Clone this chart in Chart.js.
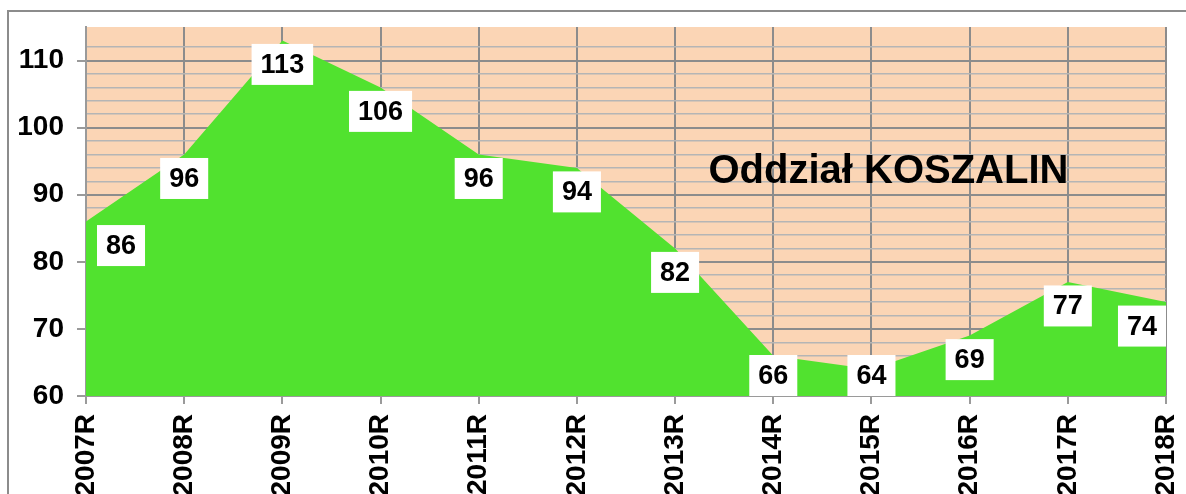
<!DOCTYPE html>
<html>
<head>
<meta charset="utf-8">
<script src="https://cdn.jsdelivr.net/npm/chart.js@4/dist/chart.umd.min.js"></script>
<style>
  html, body { margin:0; padding:0; background:#fff; }
  #wrap { width:1186px; height:494px; }
</style>
</head>
<body>
<div id="wrap"><canvas id="wykres" width="1186" height="494"></canvas></div>
<script>
const lata = ["2007R","2008R","2009R","2010R","2011R","2012R","2013R","2014R","2015R","2016R","2017R","2018R"];
const wartosci = [86,96,113,106,96,94,82,66,64,69,77,74];
const tytul = "Oddział KOSZALIN";
const yMin = 60, yMax = 115;

const FONT = "'Liberation Sans', Arial, sans-serif";

// tlo wykresu + ramka zewnetrzna
const tloPlugin = {
    id:'tlo',
    beforeDraw(chart){
        const {ctx, chartArea:a} = chart;
        ctx.save();
        ctx.fillStyle = '#fff';
        ctx.fillRect(0,0,chart.width,chart.height);
        ctx.fillStyle = '#FBD5B5';
        ctx.fillRect(a.left,a.top,a.right-a.left,a.bottom-a.top);
        ctx.strokeStyle = '#8c8c8c';
        ctx.lineWidth = 2;
        ctx.strokeRect(8,11,chart.width+20,chart.height+20);
        ctx.restore();
    }
};

// etykiety wartosci w bialych ramkach + napis
const etykietyPlugin = {
    id:'etykiety',
    afterDatasetsDraw(chart){
        const {ctx, chartArea:a} = chart;
        const meta = chart.getDatasetMeta(0);
        ctx.save();
        ctx.font = "bold 27px " + FONT;
        ctx.textAlign = 'center';
        ctx.textBaseline = 'middle';
        meta.data.forEach((p,i)=>{
            const txt = String(wartosci[i]);
            const w = ctx.measureText(txt).width + 18;
            const h = 41;
            let cx = p.x, cy = p.y + 24;
            if(cx - w/2 < a.left + 11) cx = a.left + 11 + w/2;
            if(cx + w/2 > a.right) cx = a.right - w/2;
            if(cy + h/2 > a.bottom) cy = a.bottom - h/2;
            ctx.fillStyle = '#fff';
            ctx.fillRect(cx - w/2, cy - h/2, w, h);
            ctx.fillStyle = '#000';
            ctx.fillText(txt, cx, cy + 1);
        });
        ctx.font = "bold 40px " + FONT;
        ctx.fillStyle = '#000';
        ctx.fillText(tytul, a.left + (a.right-a.left)*0.743, a.top + 145);
        ctx.restore();
    }
};

new Chart(document.getElementById("wykres").getContext("2d"),{
    type:'line',
    data:{
        labels: lata,
        datasets:[{
            data: wartosci,
            backgroundColor:'#51E22F',
            borderWidth:0,
            pointRadius:0,
            fill:'start',
            tension:0
        }]
    },
    options:{
        responsive:false,
        animation:false,
        layout:{padding:{top:27,right:20,left:12,bottom:0}},
        plugins:{legend:{display:false},title:{display:false},tooltip:{enabled:false}},
        scales:{
            x:{
                offset:false,
                grid:{color:'#8c8c8c',lineWidth:2,tickLength:8,tickColor:'#9a9a9a'},
                border:{color:'#9a9a9a',width:2},
                ticks:{
                    minRotation:90,maxRotation:90,autoSkip:false,padding:10,
                    color:'#000',font:{family:FONT,size:28,weight:'bold'}
                },
                afterFit(s){ s.height = 98; s.paddingLeft = 0; s.paddingRight = 0; }
            },
            y:{
                min:yMin,max:yMax,
                ticks:{
                    stepSize:2,autoSkip:false,padding:13,color:'#000',
                    font:{family:FONT,size:28,weight:'bold'},
                    callback:(v)=> v%10===0 ? v : ''
                },
                grid:{
                    color:(c)=>{
                        const v = c.tick ? c.tick.value : 0;
                        if(v>=yMax) return 'rgba(0,0,0,0)';
                        return v%10===0 ? '#8c8c8c' : '#b5b5b5';
                    },
                    lineWidth:(c)=> (c.tick && c.tick.value%10===0) ? 2 : 1.5,
                    tickLength:9,
                    tickColor:(c)=> (c.tick && c.tick.value%10===0) ? '#9a9a9a' : 'rgba(0,0,0,0)'
                },
                border:{color:'#9a9a9a',width:2},
                afterFit(s){ s.width = 74; s.paddingTop = 0; s.paddingBottom = 0; }
            }
        }
    },
    plugins:[tloPlugin, etykietyPlugin]
});
</script>
</body>
</html>
